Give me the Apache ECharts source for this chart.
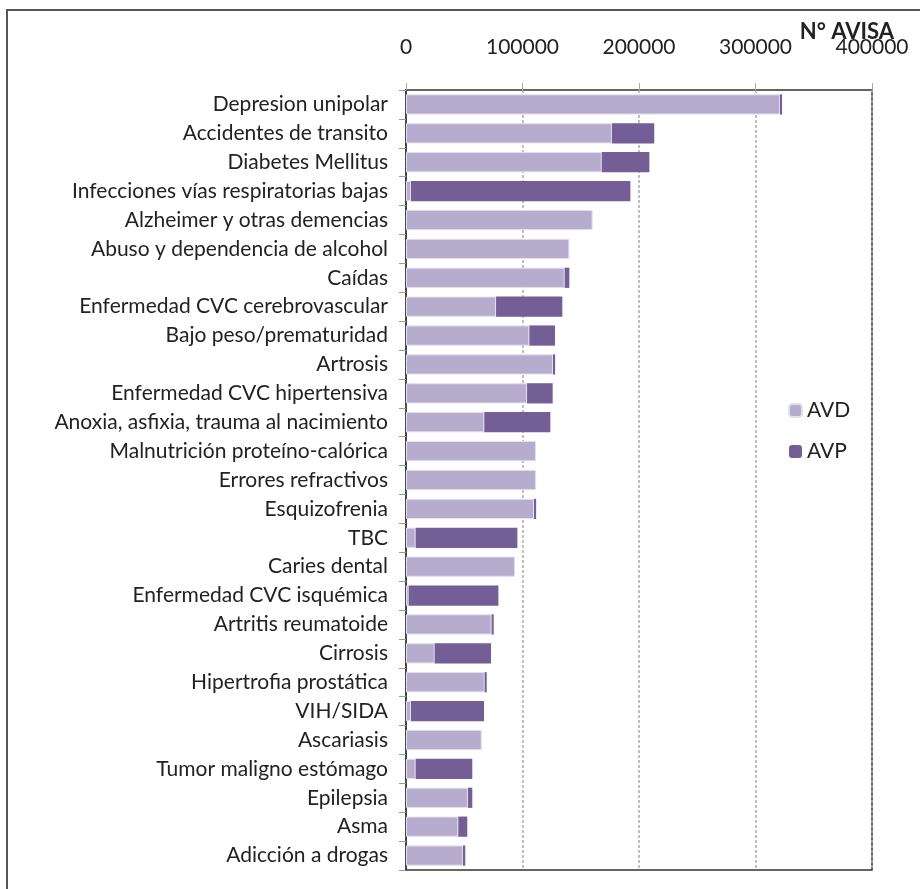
<!DOCTYPE html>
<html>
<head>
<meta charset="utf-8">
<script src="https://cdn.jsdelivr.net/npm/echarts@6/dist/echarts.min.js"></script>
<style>
  html, body { margin: 0; padding: 0; background: #fff; }
  #chart { width: 920px; height: 889px; }
</style>
</head>
<body>
<div id="chart"></div>
<script>
// datos (N° AVISA)
var categorias = [
  'Depresion unipolar', 'Accidentes de transito', 'Diabetes Mellitus',
  'Infecciones vías respiratorias bajas', 'Alzheimer y otras demencias',
  'Abuso y dependencia de alcohol', 'Caídas', 'Enfermedad CVC cerebrovascular',
  'Bajo peso/prematuridad', 'Artrosis', 'Enfermedad CVC hipertensiva',
  'Anoxia, asfixia, trauma al nacimiento', 'Malnutrición proteíno-calórica',
  'Errores refractivos', 'Esquizofrenia', 'TBC', 'Caries dental',
  'Enfermedad CVC isquémica', 'Artritis reumatoide', 'Cirrosis',
  'Hipertrofia prostática', 'VIH/SIDA', 'Ascariasis', 'Tumor maligno estómago',
  'Epilepsia', 'Asma', 'Adicción a drogas'
];
var avd = [
  321000, 176800, 168000, 4300, 160200,
  140200, 136200, 77300, 105900, 126200,
  103900, 67200, 111600, 111600, 109900,
  8300, 93600, 2300, 73500, 24600,
  67500, 4300, 65000, 8300, 53200,
  44900, 48900
];
var avp = [
  1800, 36300, 40900, 188300, 0,
  0, 4000, 56900, 22000, 1800,
  22000, 56700, 0, 0, 1800,
  87300, 0, 77000, 1800, 48400,
  1800, 62700, 0, 48600, 3700,
  7700, 2000
];
var ticksX = [0, 100000, 200000, 300000, 400000];

var fuente = 'Lato, "Open Sans", sans-serif';
var myChart = echarts.init(document.getElementById('chart'));
var option = {
  animation: false,
  textStyle: { fontFamily: fuente },
  graphic: [
    {
      type: 'rect',
      shape: { x: 7, y: 10, width: 940, height: 900 },
      style: { fill: 'none', stroke: '#555', lineWidth: 2 },
      z: -1
    },
    {
      type: 'text',
      right: 26,
      top: 21,
      style: { text: 'N° AVISA', font: 'bold 22px ' + fuente, fill: '#222' }
    }
  ],
  legend: {
    orient: 'vertical',
    left: 783,
    top: 395,
    itemWidth: 13,
    itemHeight: 13,
    itemGap: 20,
    textStyle: { fontSize: 21, color: '#222', fontFamily: fuente },
    data: ['AVD', 'AVP']
  },
  grid: {
    left: 406,
    right: 48,
    top: 90,
    bottom: 19,
    show: true,
    borderColor: '#333',
    borderWidth: 1.5
  },
  xAxis: {
    type: 'value',
    position: 'top',
    min: 0,
    max: 400000,
    interval: 100000,
    axisLine: { show: false },
    axisTick: { show: true, inside: false, length: 7, lineStyle: { color: '#aaa' } },
    axisLabel: {
      margin: 32, fontSize: 21, color: '#222', fontFamily: fuente,
      formatter: function (v) { return ticksX.indexOf(v) >= 0 ? String(v) : ''; }
    },
    splitLine: { show: true, lineStyle: { color: '#aaa', type: [3, 2], width: 1.5 } }
  },
  yAxis: {
    type: 'category',
    inverse: true,
    data: categorias,
    axisLine: { show: true, lineStyle: { color: '#333', width: 1.5 } },
    axisTick: { show: true, length: 7, lineStyle: { color: '#999' } },
    axisLabel: { margin: 18, fontSize: 21, color: '#222', fontFamily: fuente }
  },
  series: [
    {
      name: 'AVD',
      type: 'bar',
      stack: 'total',
      barCategoryGap: '30%',
      data: avd,
      itemStyle: { color: '#b6accd', borderColor: '#e4def0', borderWidth: 1 }
    },
    {
      name: 'AVP',
      type: 'bar',
      stack: 'total',
      barCategoryGap: '30%',
      data: avp,
      itemStyle: { color: '#735e95', borderColor: '#e4def0', borderWidth: 0 }
    }
  ]
};
myChart.setOption(option);
</script>
</body>
</html>
